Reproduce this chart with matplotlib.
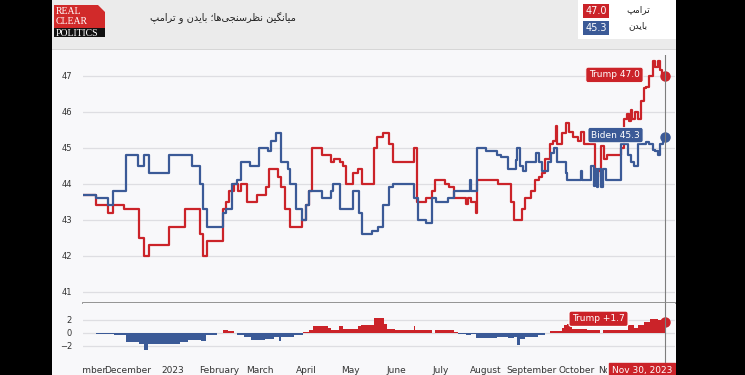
import matplotlib.pyplot as plt
import matplotlib.patches as mpatches
import matplotlib.transforms as mtransforms
import numpy as np
import pandas as pd

# RCP average, step values (date the value changes, new value)
trump_dates = ["2022-11-01", "2022-11-10", "2022-11-18", "2022-11-21", "2022-11-29", "2022-12-09",
               "2022-12-12", "2022-12-16", "2022-12-29", "2023-01-09", "2023-01-19", "2023-01-21",
               "2023-01-24", "2023-02-04", "2023-02-06", "2023-02-08", "2023-02-11", "2023-02-14",
               "2023-02-16", "2023-02-20", "2023-02-27", "2023-03-05", "2023-03-07", "2023-03-13",
               "2023-03-15", "2023-03-18", "2023-03-21", "2023-03-29", "2023-04-01", "2023-04-03",
               "2023-04-05", "2023-04-12", "2023-04-18", "2023-04-20", "2023-04-24", "2023-04-26",
               "2023-04-28", "2023-05-03", "2023-05-06", "2023-05-09", "2023-05-17", "2023-05-19",
               "2023-05-23", "2023-05-27", "2023-05-30", "2023-06-13", "2023-06-15", "2023-06-21",
               "2023-06-25", "2023-06-27", "2023-07-04", "2023-07-07", "2023-07-10", "2023-07-18",
               "2023-07-20", "2023-07-22", "2023-07-25", "2023-07-26", "2023-08-09", "2023-08-18",
               "2023-08-20", "2023-08-25", "2023-08-27", "2023-08-31", "2023-09-03", "2023-09-06",
               "2023-09-08", "2023-09-10", "2023-09-13", "2023-09-15", "2023-09-17", "2023-09-18",
               "2023-09-21", "2023-09-24", "2023-09-26", "2023-09-29", "2023-10-02", "2023-10-04",
               "2023-10-06", "2023-10-14", "2023-10-16", "2023-10-18", "2023-10-20", "2023-10-22",
               "2023-10-31", "2023-11-02", "2023-11-04", "2023-11-06", "2023-11-07", "2023-11-08",
               "2023-11-10", "2023-11-12", "2023-11-14", "2023-11-16", "2023-11-17", "2023-11-19",
               "2023-11-22", "2023-11-23", "2023-11-25", "2023-11-27", "2023-11-28", "2023-11-30"]
trump_vals = [43.7, 43.4, 43.2, 43.4, 43.3, 42.5,
              42.0, 42.3, 42.8, 43.3, 42.6, 42.0,
              42.4, 43.3, 43.5, 43.8, 44.0, 43.8,
              44.0, 43.5, 43.7, 43.9, 44.4, 44.2,
              43.9, 43.3, 42.8, 43.0, 43.4, 43.8,
              45.0, 44.8, 44.6, 44.7, 44.6, 44.5,
              44.0, 44.3, 44.4, 44.0, 45.0, 45.3,
              45.4, 45.1, 44.6, 45.0, 43.5, 43.6,
              43.8, 44.1, 44.0, 43.9, 43.6, 43.45,
              43.6, 43.5, 43.2, 44.1, 44.0, 43.5,
              43.0, 43.3, 43.6, 43.8, 44.1, 44.2,
              44.3, 44.7, 45.1, 45.2, 45.6, 45.1,
              45.4, 45.7, 45.45, 45.3, 45.2, 45.45,
              45.1, 44.2, 44.35, 45.05, 44.7, 44.8,
              45.0, 45.8, 45.95, 45.75, 46.05, 45.8,
              46.0, 45.8, 46.3, 46.65, 46.7, 47.0,
              47.4, 47.25, 47.4, 47.15, 47.0, 47.0]

biden_dates = ["2022-11-01", "2022-11-10", "2022-11-18", "2022-11-21", "2022-11-30", "2022-12-08",
               "2022-12-12", "2022-12-16", "2022-12-29", "2023-01-14", "2023-01-19", "2023-01-21",
               "2023-01-24", "2023-02-04", "2023-02-06", "2023-02-10", "2023-02-13", "2023-02-16",
               "2023-02-22", "2023-02-28", "2023-03-06", "2023-03-08", "2023-03-12", "2023-03-15",
               "2023-03-20", "2023-03-21", "2023-03-25", "2023-03-29", "2023-04-01", "2023-04-03",
               "2023-04-12", "2023-04-18", "2023-04-19", "2023-04-24", "2023-05-03", "2023-05-07",
               "2023-05-09", "2023-05-16", "2023-05-20", "2023-05-23", "2023-05-27", "2023-05-30",
               "2023-06-13", "2023-06-16", "2023-06-21", "2023-06-25", "2023-06-28", "2023-07-06",
               "2023-07-10", "2023-07-21", "2023-07-22", "2023-07-26", "2023-08-01", "2023-08-08",
               "2023-08-11", "2023-08-16", "2023-08-21", "2023-08-22", "2023-08-24", "2023-08-26",
               "2023-08-28", "2023-09-04", "2023-09-06", "2023-09-08", "2023-09-12", "2023-09-14",
               "2023-09-16", "2023-09-18", "2023-09-24", "2023-09-25", "2023-10-04", "2023-10-05",
               "2023-10-11", "2023-10-13", "2023-10-14", "2023-10-15", "2023-10-16", "2023-10-18",
               "2023-10-19", "2023-10-21", "2023-10-31", "2023-11-05", "2023-11-07", "2023-11-09",
               "2023-11-12", "2023-11-17", "2023-11-19", "2023-11-22", "2023-11-23", "2023-11-25",
               "2023-11-27", "2023-11-29", "2023-11-30"]
biden_vals = [43.7, 43.6, 43.4, 43.8, 44.8, 44.5,
              44.8, 44.3, 44.8, 44.5, 44.0, 43.3,
              42.8, 43.2, 43.3, 44.0, 44.1, 44.6,
              44.5, 45.0, 44.9, 45.2, 45.4, 44.6,
              44.4, 44.0, 43.3, 43.0, 43.4, 43.8,
              43.6, 43.8, 44.0, 43.3, 43.8, 43.2,
              42.6, 42.7, 42.8, 43.4, 43.9, 44.0,
              43.6, 43.0, 42.9, 43.6, 43.5, 43.6,
              43.8, 44.1, 43.8, 45.0, 44.9, 44.8,
              44.75, 44.4, 44.65, 45.0, 44.5, 44.35,
              44.6, 44.85, 44.6, 44.35, 44.6, 44.85,
              45.0, 44.6, 44.3, 44.1, 44.35, 44.1,
              44.5, 43.95, 44.4, 43.9, 44.4, 43.9,
              44.4, 44.1, 45.1, 44.8, 44.6, 44.5,
              45.1, 45.15, 45.1, 44.95, 44.9, 44.8,
              45.1, 45.3, 45.3]

# spread panel (Trump minus Biden) as drawn in the lower chart
spread_dates = ["2022-11-01", "2022-11-10", "2022-11-22", "2022-11-30", "2022-12-09", "2022-12-12",
                "2022-12-15", "2023-01-06", "2023-01-11", "2023-01-20", "2023-01-23", "2023-01-31",
                "2023-02-04", "2023-02-07", "2023-02-11", "2023-02-13", "2023-02-18", "2023-02-23",
                "2023-03-04", "2023-03-10", "2023-03-14", "2023-03-15", "2023-03-24", "2023-03-30",
                "2023-04-03", "2023-04-06", "2023-04-16", "2023-04-18", "2023-04-23", "2023-04-26",
                "2023-05-06", "2023-05-08", "2023-05-17", "2023-05-24", "2023-05-26", "2023-05-31",
                "2023-06-13", "2023-06-14", "2023-06-19", "2023-06-25", "2023-06-27", "2023-07-10",
                "2023-07-13", "2023-07-18", "2023-07-22", "2023-07-25", "2023-08-08", "2023-08-16",
                "2023-08-20", "2023-08-22", "2023-08-24", "2023-08-27", "2023-09-05", "2023-09-10",
                "2023-09-13", "2023-09-21", "2023-09-23", "2023-09-25", "2023-09-28", "2023-10-08",
                "2023-10-17", "2023-10-19", "2023-11-05", "2023-11-09", "2023-11-12", "2023-11-16",
                "2023-11-20", "2023-11-25", "2023-11-28", "2023-11-30"]
spread_vals = [0.0, -0.15, -0.3, -1.5, -1.7, -2.7,
               -1.7, -1.5, -1.1, -1.3, -0.3, -0.05,
               0.5, 0.2, 0.0, -0.3, -0.6, -1.1,
               -0.95, -0.7, -1.2, -0.6, -0.3, 0.05,
               0.5, 1.05, 0.7, 0.5, 1.0, 0.55,
               1.0, 1.25, 2.3, 1.4, 0.6, 0.5,
               1.0, 0.5, 0.4, 0.0, 0.5, 0.1,
               -0.15, -0.3, -0.15, -0.85, -0.7, -0.8,
               -0.7, -1.85, -0.95, -0.7, -0.3, 0.0,
               0.35, 0.8, 1.2, 1.4, 0.6, 0.5,
               0.0, 0.5, 1.15, 0.8, 1.15, 1.7,
               2.2, 2.0, 2.1, 1.7]

month_ticks = ["2022-11-01", "2022-12-01", "2023-01-01", "2023-02-01", "2023-03-01", "2023-04-01",
               "2023-05-01", "2023-06-01", "2023-07-01", "2023-08-01", "2023-09-01", "2023-10-01",
               "2023-11-01"]
month_labels = ["November", "December", "2023", "February", "March", "April", "May", "June",
                "July", "August", "September", "October", "November"]

title_fa = "میانگین نظرسنجی‌ها؛ بایدن و ترامپ"
trump_fa = "ترامپ"
biden_fa = "بایدن"

RED = "#cb2329"
BLUE = "#3b5a97"
BG = "#f8f8fa"

# matplotlib has no arabic shaping, so pick the contextual forms by hand
FORMS = {  # isolated, final, initial, medial
    "ا": ("\uFE8D", "\uFE8E", None, None),
    "ب": ("\uFE8F", "\uFE90", "\uFE91", "\uFE92"),
    "پ": ("\uFB56", "\uFB57", "\uFB58", "\uFB59"),
    "ت": ("\uFE95", "\uFE96", "\uFE97", "\uFE98"),
    "ج": ("\uFE9D", "\uFE9E", "\uFE9F", "\uFEA0"),
    "د": ("\uFEA9", "\uFEAA", None, None),
    "ر": ("\uFEAD", "\uFEAE", None, None),
    "س": ("\uFEB1", "\uFEB2", "\uFEB3", "\uFEB4"),
    "ظ": ("\uFEC5", "\uFEC6", "\uFEC7", "\uFEC8"),
    "گ": ("\uFB92", "\uFB93", "\uFB94", "\uFB95"),
    "م": ("\uFEE1", "\uFEE2", "\uFEE3", "\uFEE4"),
    "ن": ("\uFEE5", "\uFEE6", "\uFEE7", "\uFEE8"),
    "ه": ("\uFEE9", "\uFEEA", "\uFEEB", "\uFEEC"),
    "و": ("\uFEED", "\uFEEE", None, None),
    "ی": ("\uFEEF", "\uFEF0", "\uFEF3", "\uFEF4"),
}


def fa(txt):
    # join letters by context, then reverse for right-to-left display
    out = []
    for i, ch in enumerate(txt):
        if ch == "\u200c":
            continue
        if ch not in FORMS:
            out.append(ch)
            continue
        prev = txt[i - 1] if i > 0 else ""
        nxt = txt[i + 1] if i + 1 < len(txt) else ""
        jp = prev in FORMS and FORMS[prev][2] is not None
        jn = FORMS[ch][2] is not None and nxt in FORMS
        iso, fin, ini, med = FORMS[ch]
        if jp and jn:
            out.append(med)
        elif jp:
            out.append(fin)
        elif jn:
            out.append(ini)
        else:
            out.append(iso)
    return "".join(reversed(out))


td = pd.to_datetime(trump_dates)
bd = pd.to_datetime(biden_dates)
sd = pd.to_datetime(spread_dates)
sv = np.array(spread_vals)
end = td[-1]

W, H = 745.0, 375.0
fig = plt.figure(figsize=(7.45, 3.75), dpi=100, facecolor=BG)

ax = fig.add_axes([83 / W, 1 - 303 / H, 592 / W, 248 / H])
ax2 = fig.add_axes([83 / W, 1 - 358 / H, 592 / W, 55 / H])
xlim = (pd.Timestamp("2022-11-01"), pd.Timestamp("2023-12-06 20:00"))

for a in (ax, ax2):
    a.set_facecolor(BG)
    a.set_xlim(xlim)
    for s in a.spines.values():
        s.set_visible(False)
    a.tick_params(length=0, labelsize=6, labelcolor="#333333", pad=8)
    a.grid(axis="y", color="#dedee2", lw=0.9)
    a.set_axisbelow(True)

# top chart: the two averages
ax.plot(td, trump_vals, drawstyle="steps-post", color=RED, lw=1.6)
ax.plot(bd, biden_vals, drawstyle="steps-post", color=BLUE, lw=1.6)
ax.plot(end, trump_vals[-1], "o", color=RED, ms=6.5)
ax.plot(end, biden_vals[-1], "o", color=BLUE, ms=6.5)
ax.set_ylim(40.69, 47.58)
ax.set_yticks(range(41, 48))
ax.set_xticks([])
ax.spines["bottom"].set_visible(True)
ax.spines["bottom"].set_color("#8c8c8c")
ax.spines["bottom"].set_linewidth(1.3)
ax.axvline(end, color="#7d7d7d", lw=0.8)

ax.annotate("Trump %.1f" % trump_vals[-1], xy=(end, trump_vals[-1]), xytext=(-25, 1),
            textcoords="offset pixels", ha="right", va="center", color="white", fontsize=6.5,
            bbox=dict(boxstyle="round,pad=0.35,rounding_size=0.25", fc=RED, ec="white", lw=0.6))
ax.annotate("Biden %.1f" % biden_vals[-1], xy=(end, biden_vals[-1]), xytext=(-25, 2),
            textcoords="offset pixels", ha="right", va="center", color="white", fontsize=6.5,
            bbox=dict(boxstyle="round,pad=0.35,rounding_size=0.25", fc=BLUE, ec="white", lw=0.6))

# bottom chart: spread
ax2.fill_between(sd, 0, np.maximum(sv, 0), step="post", color=RED, lw=0)
ax2.fill_between(sd, np.minimum(sv, 0), 0, step="post", color=BLUE, lw=0)
ax2.plot(end, sv[-1], "o", color=RED, ms=6.5)
ax2.set_ylim(-3.9, 4.6)
ax2.set_yticks([-2, 0, 2])
ax2.set_xticks(pd.to_datetime(month_ticks))
ax2.set_xticklabels(month_labels)
ax2.tick_params(axis="x", labelsize=6.5, pad=6)
ax2.axvline(end, ymin=-0.15, color="#7d7d7d", lw=0.8, clip_on=False)
ax2.annotate("Trump +%.1f" % sv[-1], xy=(end, sv[-1]), xytext=(-40, 3),
             textcoords="offset pixels", ha="right", va="center", color="white", fontsize=6.5,
             bbox=dict(boxstyle="round,pad=0.35,rounding_size=0.25", fc=RED, ec="white", lw=0.8))
ax2.annotate("Nov 30, 2023", xy=(1, 0), xycoords="axes fraction", xytext=(-3, -12),
             textcoords="offset pixels", ha="right", va="center", color="white",
             fontsize=6.5, annotation_clip=False,
             bbox=dict(boxstyle="square,pad=0.3", fc=RED, ec=RED))

# the last month label sits under the date box: only its first letter shows
last_lab = ax2.get_xticklabels()[-1]
last_lab.set_clip_box(mtransforms.Bbox.from_extents(0, 0, 607, H))
last_lab.set_clip_on(True)


# page furniture: header, logo, legend box, black borders
def frect(x0, y0, x1, y1, color, z=1):
    fig.patches.append(mpatches.Rectangle((x0 / W, 1 - y1 / H), (x1 - x0) / W, (y1 - y0) / H,
                                          transform=fig.transFigure, color=color, zorder=z, lw=0))


frect(52, 0, 676, 50, "#ebebeb")
frect(52, 49, 676, 50, "#d6d6d6")
frect(52, 358, 83, 375, BG, z=5)  # hides the start of the first month label
frect(54, 5, 105, 28, "#d12a2a")
frect(54, 28, 105, 37, "#111111")
fig.patches.append(mpatches.Polygon([(98 / W, 1 - 5 / H), (105 / W, 1 - 5 / H), (105 / W, 1 - 12 / H)],
                                    transform=fig.transFigure, color="#ebebeb", zorder=2, lw=0))
for txt, yy in [("REAL", 12), ("CLEAR", 22), ("POLITICS", 33)]:
    fig.text(56 / W, 1 - yy / H, txt, color="white", fontsize=7, family="Liberation Serif",
             ha="left", va="center", zorder=3)

fig.text(150 / W, 1 - 18 / H, fa(title_fa), fontsize=7, color="#222222", ha="left",
         va="center")

frect(578, 0, 676, 39, "white")
frect(583, 4, 609, 18, RED, z=2)
frect(583, 21, 609, 35, BLUE, z=2)
fig.text(596 / W, 1 - 11 / H, "%.1f" % trump_vals[-1], color="white", fontsize=7, ha="center",
         va="center", zorder=3)
fig.text(596 / W, 1 - 28 / H, "%.1f" % biden_vals[-1], color="white", fontsize=7, ha="center",
         va="center", zorder=3)
fig.text(638 / W, 1 - 10 / H, fa(trump_fa), color="#222222", fontsize=6.5, ha="center",
         va="center", zorder=3)
fig.text(638 / W, 1 - 26 / H, fa(biden_fa), color="#222222", fontsize=6.5, ha="center",
         va="center", zorder=3)

frect(0, 0, 52, 375, "black", z=20)
frect(676, 0, 745, 375, "black", z=20)

fig.savefig("out.png", dpi=100, facecolor=BG)
